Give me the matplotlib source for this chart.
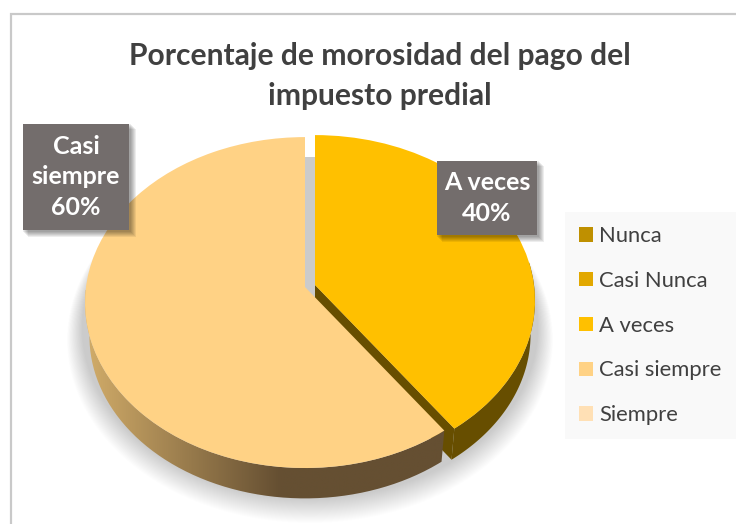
import numpy as np
import matplotlib
matplotlib.use('Agg')
import matplotlib.pyplot as plt
from matplotlib.patches import Ellipse, PathPatch, Patch, Rectangle
from matplotlib.path import Path
from matplotlib.transforms import Transform

plt.rcParams['font.family'] = ['Lato', 'DejaVu Sans']

title = 'Porcentaje de morosidad del pago del\nimpuesto predial'
categories = ['Nunca', 'Casi Nunca', 'A veces', 'Casi siempre', 'Siempre']
values = [0, 0, 40, 60, 0]
colors = ['#BF9000', '#E2A800', '#FFC000', '#FFD285', '#FFE0B5']
side_color = '#674E00'


class Persp(Transform):
    # unit pie -> pixel coords, far edge is a bit smaller
    input_dims = 2
    output_dims = 2
    has_inverse = False
    is_separable = False

    def __init__(self, cx, cy, f=1.0, dy=0):
        Transform.__init__(self)
        self.cx, self.cy, self.f, self.dy = cx, cy, f, dy

    def transform_non_affine(self, values):
        values = np.asarray(values)
        w = 1 + 0.094 * values[:, 1]
        x = self.cx + self.f * 219 * values[:, 0] / w
        y = self.cy + self.dy - self.f * 164 * values[:, 1] / w
        return np.column_stack([x, y])


def side_path(cx, cy, a0, a1):
    a = np.radians(np.linspace(a0, a1, 120))
    pts = np.column_stack([np.cos(a), np.sin(a)])
    top = Persp(cx, cy).transform(pts)
    bot = Persp(cx, cy, 0.98, 34).transform(pts)
    return np.vstack([top, bot[::-1]])


fig = plt.figure(figsize=(7.36, 5.24), dpi=100)
ax = fig.add_axes([0, 0, 1, 1])

# soft shadow under the pie
for i in range(26):
    ry = 171 + i * 0.48
    rx = 228 + i * 0.6
    ax.add_patch(Ellipse((310, 157 + ry), 2 * rx, 2 * ry, fc='k', ec='none', alpha=0.0095, zorder=1))

cx_orange, cx_casi, cy_orange, cy_casi = 315, 305, 285, 287
tip = 90 - 360 * values[2] / sum(values)

# sides
ax.add_patch(plt.Polygon(side_path(cx_orange, cy_orange, 8, tip), fc=side_color, ec='none', zorder=2))
a = np.radians(tip)
p0 = Persp(cx_orange, cy_orange).transform(np.array([[0, 0], [np.cos(a), np.sin(a)]]))
p1 = Persp(cx_orange, cy_orange, 0.98, 34).transform(np.array([[0, 0], [np.cos(a), np.sin(a)]]))
ax.add_patch(plt.Polygon([p0[0], p0[1], p1[1], p1[0]], fc=side_color, ec='none', zorder=2))

casi_side = PathPatch(Path(side_path(cx_casi, cy_casi, tip, -180)), fc='none', ec='none', transform=ax.transData)
ax.add_patch(casi_side)
xs = np.linspace(85, 450, 256)
c0, c1 = np.array([0xCF, 0xAA, 0x68]) / 255, np.array([0x65, 0x4F, 0x32]) / 255
t = np.clip((xs - 90) / 190, 0, 1)
img = (c0[None, :] * (1 - t[:, None]) + c1[None, :] * t[:, None])[None, :, :]
im = ax.imshow(img, extent=(85, 450, 510, 290), aspect='auto', zorder=3)
im.set_clip_path(casi_side)

# top faces
wedges, _ = ax.pie(values, colors=colors, startangle=90, counterclock=False, radius=1)
ax.set_aspect('auto')
for w, v, cat in zip(wedges, values, categories):
    w.set_zorder(4)
    w.set_linewidth(0)
    if cat == 'A veces':
        w.set_transform(Persp(cx_orange, cy_orange) + ax.transData)
    else:
        w.set_transform(Persp(cx_casi, cy_casi) + ax.transData)

# chart border
ax.plot([736, 11, 11], [14, 14, 524], color='#C9C9C9', lw=1.6, zorder=5, solid_joinstyle='miter')

ax.text(380, 76, title, ha='center', va='center', fontsize=21.6, fontweight='bold',
        color='#404040', linespacing=1.5, zorder=6)


def label(x0, y0, x1, y1, txt):
    for i in range(6):
        d = 1 + i
        ax.add_patch(Rectangle((x0 + d - 1, y0 + d - 1), x1 - x0 + 2, y1 - y0 + 2, fc='k', ec='none',
                               alpha=0.07, zorder=6))
    ax.add_patch(Rectangle((x0, y0), x1 - x0, y1 - y0, fc='#736D6C', ec='none', zorder=7))
    ax.text((x0 + x1) / 2, (y0 + y1) / 2, txt, ha='center', va='center', color='white',
            fontsize=18, fontweight='bold', linespacing=1.4, zorder=8)


label(23, 124, 129, 230, 'Casi\nsiempre\n%d%%' % values[3])
label(437, 161, 537, 235, 'A veces\n%d%%' % values[2])

handles = [Patch(fc=c, ec='none', label=n) for c, n in zip(colors, categories)]
leg = ax.legend(handles=handles, loc='upper right', bbox_to_anchor=(735.5, 212), bbox_transform=ax.transData,
                borderaxespad=0, fontsize=15.8, labelcolor='#404040', facecolor='#F9F9F9', edgecolor='none',
                framealpha=1, fancybox=False, handlelength=0.63, handleheight=0.63, handletextpad=0.27,
                labelspacing=1.13, borderpad=0.64)
leg.set_zorder(6)

ax.set_xlim(0, 736)
ax.set_ylim(524, 0)
ax.axis('off')
fig.savefig('out.png', dpi=100)
